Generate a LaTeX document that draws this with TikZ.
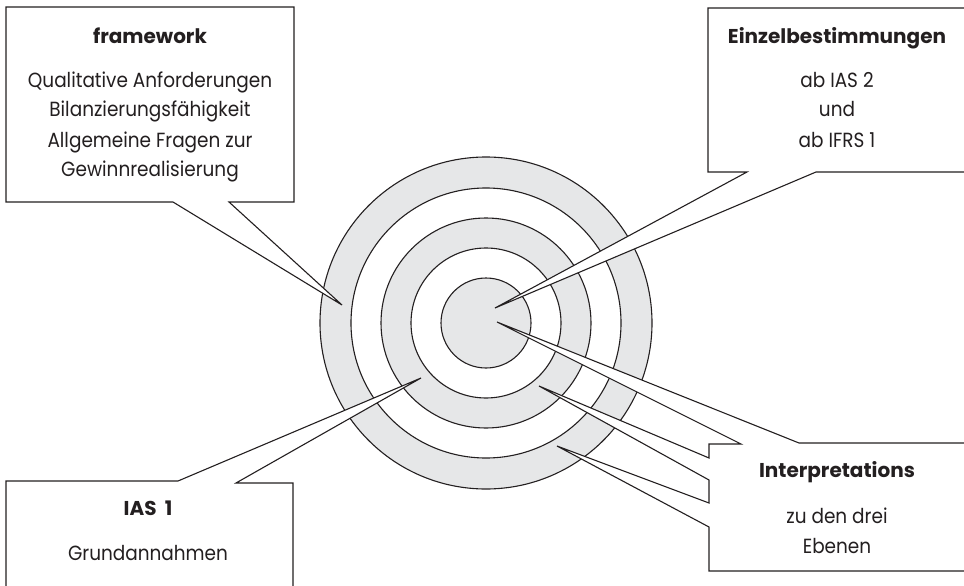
\documentclass[tikz,border=0pt]{standalone}
\usepackage{fontspec}
\setmainfont{Poppins}
\newfontfamily\bodyfont{Poppins}[FakeStretch=0.9]
\definecolor{ringgray}{HTML}{E6E7E8}
\definecolor{inkline}{HTML}{231F20}
\begin{document}
\begin{tikzpicture}[x=1pt,y=-1pt,
  ringline/.style={draw=inkline, line width=1.1pt},
  callout/.style={draw=inkline, fill=white, line width=1.1pt, line join=miter},
  title/.style={anchor=base, inner sep=0pt, text=inkline,
    font=\fontsize{20}{24}\selectfont\bfseries},
  body/.style={anchor=base, inner sep=0pt, text=inkline,
    font=\bodyfont\fontsize{20.5}{24}\selectfont}]
\useasboundingbox (0,0) rectangle (964,586);
\clip (0,0) rectangle (964,586);

% target rings
\coordinate (c) at (486,323);
\fill[ringgray] (c) circle[radius=166];
\fill[white]    (c) circle[radius=135];
\fill[ringgray] (c) circle[radius=105];
\fill[white]    (c) circle[radius=75];
\fill[ringgray] (c) circle[radius=45];
\foreach \r in {166,135,105,75,45}
  \draw[ringline] (c) circle[radius=\r];

% pointer tips
\coordinate (tipF) at (342,305);
\coordinate (tipE) at (495,308);
\coordinate (tipI) at (421,378);
\coordinate (tipA) at (497,322);
\coordinate (tipB) at (539,386);
\coordinate (tipC) at (557,446);

% callout: framework
\draw[callout] (6,7) -- (294,7) -- (294,202) -- (229,202) -- (tipF)
  -- (173,202) -- (6,202) -- cycle;
\node[title] (fwT) at (150,44) {framework};
\node[body] (fw1) at (150,88)  {Qualitative Anforderungen};
\node[body] (fw2) at (150,117) {Bilanzierungsfähigkeit};
\node[body] (fw3) at (150,147) {Allgemeine Fragen zur};
\node[body] (fw4) at (150,176) {Gewinnrealisierung};

% callout: Einzelbestimmungen
\draw[callout] (708,8) -- (975,8) -- (975,172) -- (816,172) -- (tipE)
  -- (747,172) -- (708,172) -- cycle;
\node[title] (ebT) at (837,44) {Einzelbestimmungen};
\node[body] (eb1) at (837,88)  {ab IAS 2};
\node[body] (eb2) at (837,117) {und};
\node[body] (eb3) at (837,147) {ab IFRS 1};

% callout: IAS 1
\draw[callout] (6,600) -- (6,481) -- (178,481) -- (tipI) -- (236,483)
  -- (293,483) -- (293,600);
\node[title] (iaT) at (148,515) {IAS\hspace{4pt} 1};
\node[body] (ia1) at (148,560) {Grundannahmen};

% callout: Interpretations (three pointers)
\draw[callout] (975,443) -- (799,443) -- (tipA) -- (741,444) -- (709,444)
  -- (709,458) -- (tipB) -- (709,480) -- (709,503) -- (tipC)
  -- (709,527) -- (709,571) -- (975,571);
\node[title] (inT) at (837,477) {Interpretations};
\node[body] (in1) at (837,523) {zu den drei};
\node[body] (in2) at (837,553) {Ebenen};
\end{tikzpicture}
\end{document}
